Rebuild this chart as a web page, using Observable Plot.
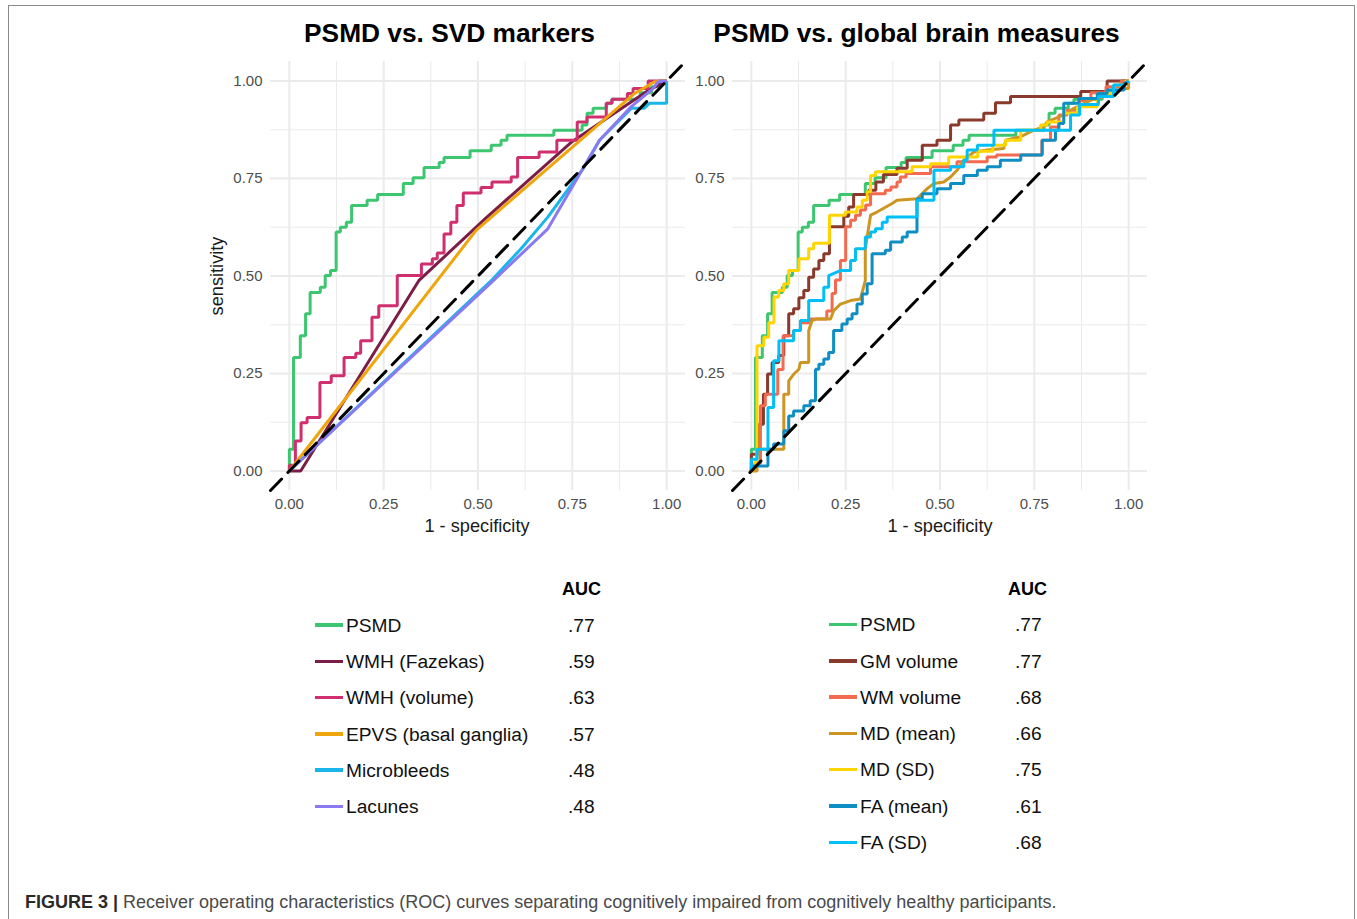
<!DOCTYPE html>
<html>
<head>
<meta charset="utf-8">
<script src="https://cdn.jsdelivr.net/npm/d3@7"></script>
<script src="https://cdn.jsdelivr.net/npm/@observablehq/plot@0.6"></script>
<style>
html,body{margin:0;padding:0;width:1357px;height:919px;overflow:hidden;background:#fff;font-family:"Liberation Sans",Arial,Helvetica,sans-serif;}
#frame{position:absolute;left:8px;top:5px;width:1347px;height:960px;border:1.5px solid #8a8a8a;box-sizing:border-box;}
.abs{position:absolute;white-space:nowrap;}
.title{font-weight:bold;font-size:26.3px;line-height:26px;color:#000;text-align:center;width:600px;}
.axtitle{font-size:18.2px;line-height:18px;color:#1a1a1a;text-align:center;width:300px;}
.leg{font-size:19.2px;line-height:19px;color:#111;}
.auchead{font-weight:bold;font-size:18px;line-height:18px;color:#000;}
.swatch{position:absolute;height:3.5px;width:28px;}
#caption{font-size:18px;line-height:18px;color:#4a4a4a;}
#caption b{color:#2a2a2a;}
</style>
</head>
<body>
<div id="frame"></div>
<div id="root"></div>
<script>
// ---------------- data ----------------
const majorTicks = [0, 0.25, 0.5, 0.75, 1];
const minorTicks = [0.125, 0.375, 0.625, 0.875];
const axisDomain = [-0.05, 1.05];

// left panel: PSMD vs. SVD markers  ([1 - specificity, sensitivity])
const psmd = [[0,0],[0,0.056],[0.011,0.056],[0.011,0.291],[0.029,0.291],[0.029,0.347],[0.043,0.347],[0.043,0.403],[0.055,0.403],[0.055,0.458],[0.082,0.458],[0.082,0.471],[0.095,0.471],[0.095,0.501],[0.109,0.501],[0.109,0.514],[0.124,0.514],[0.124,0.613],[0.135,0.613],[0.135,0.625],[0.151,0.625],[0.151,0.638],[0.165,0.638],[0.165,0.681],[0.206,0.681],[0.206,0.694],[0.234,0.694],[0.234,0.709],[0.302,0.709],[0.302,0.737],[0.328,0.737],[0.328,0.752],[0.357,0.752],[0.357,0.778],[0.397,0.778],[0.397,0.791],[0.41,0.791],[0.41,0.804],[0.479,0.804],[0.479,0.821],[0.535,0.821],[0.535,0.835],[0.561,0.835],[0.561,0.848],[0.577,0.848],[0.577,0.861],[0.701,0.861],[0.701,0.874],[0.776,0.874],[0.776,0.887],[0.789,0.887],[0.789,0.917],[0.805,0.917],[0.805,0.93],[0.84,0.93],[0.84,0.943],[0.855,0.943],[0.855,0.953],[0.93,0.953],[0.93,0.97],[0.96,0.97],[0.96,0.985],[0.98,0.985],[0.98,1],[1,1]];
const wmhFazekas = [[0,0],[0.03,0],[0.343,0.488],[0.52,0.648],[0.75,0.845],[0.95,0.975],[1,1]];
const wmhVolume = [[0,0],[0,0.015],[0.016,0.015],[0.016,0.077],[0.031,0.077],[0.031,0.124],[0.047,0.124],[0.047,0.137],[0.081,0.137],[0.081,0.227],[0.111,0.227],[0.111,0.244],[0.145,0.244],[0.145,0.291],[0.176,0.291],[0.176,0.302],[0.189,0.302],[0.189,0.334],[0.219,0.334],[0.219,0.394],[0.237,0.394],[0.237,0.424],[0.286,0.424],[0.286,0.501],[0.35,0.501],[0.35,0.531],[0.379,0.531],[0.379,0.544],[0.392,0.544],[0.392,0.559],[0.41,0.559],[0.41,0.608],[0.428,0.608],[0.428,0.638],[0.444,0.638],[0.444,0.681],[0.461,0.681],[0.461,0.713],[0.508,0.713],[0.508,0.727],[0.537,0.727],[0.537,0.741],[0.588,0.741],[0.588,0.754],[0.605,0.754],[0.605,0.804],[0.662,0.804],[0.662,0.818],[0.709,0.818],[0.709,0.848],[0.763,0.848],[0.763,0.895],[0.789,0.895],[0.789,0.908],[0.84,0.908],[0.84,0.943],[0.855,0.943],[0.855,0.953],[0.896,0.953],[0.896,0.968],[0.911,0.968],[0.911,0.981],[0.951,0.981],[0.951,1],[1,1]];
const epvs = [[0,0],[0.495,0.617],[0.915,0.968],[0.968,0.998],[1,1]];
const microbleeds = [[0,0],[0.535,0.488],[0.614,0.57],[0.685,0.651],[0.782,0.78],[0.822,0.848],[0.907,0.93],[0.94,0.93],[0.955,0.943],[1,0.943],[1,1]];
const lacunes = [[0,0],[0.535,0.483],[0.685,0.621],[0.822,0.848],[0.907,0.935],[0.963,0.98],[0.978,0.998],[1,1]];

// right panel: PSMD vs. global brain measures
const gmVolume = [[0,0],[0,0.043],[0.02,0.043],[0.02,0.12],[0.032,0.12],[0.032,0.197],[0.043,0.197],[0.043,0.249],[0.055,0.249],[0.055,0.278],[0.0725,0.278],[0.0725,0.296],[0.086,0.296],[0.086,0.347],[0.099,0.347],[0.099,0.403],[0.112,0.403],[0.112,0.416],[0.126,0.416],[0.126,0.444],[0.139,0.444],[0.139,0.463],[0.152,0.463],[0.152,0.497],[0.165,0.497],[0.165,0.518],[0.179,0.518],[0.179,0.54],[0.192,0.54],[0.192,0.557],[0.207,0.557],[0.207,0.626],[0.245,0.626],[0.245,0.653],[0.258,0.653],[0.258,0.677],[0.271,0.677],[0.271,0.709],[0.311,0.709],[0.311,0.72],[0.33,0.72],[0.33,0.741],[0.35,0.741],[0.35,0.76],[0.386,0.76],[0.386,0.776],[0.413,0.776],[0.413,0.797],[0.453,0.797],[0.453,0.835],[0.492,0.835],[0.492,0.848],[0.528,0.848],[0.528,0.887],[0.55,0.887],[0.55,0.9],[0.616,0.9],[0.616,0.917],[0.647,0.917],[0.647,0.944],[0.687,0.944],[0.687,0.96],[0.873,0.96],[0.873,0.973],[0.943,0.973],[0.943,1],[1,1]];
const wmVolume = [[0,0],[0.01,0.02],[0.024,0.02],[0.024,0.167],[0.037,0.167],[0.037,0.197],[0.07,0.197],[0.07,0.26],[0.084,0.26],[0.084,0.347],[0.112,0.347],[0.112,0.36],[0.13,0.36],[0.13,0.38],[0.157,0.38],[0.157,0.39],[0.2,0.39],[0.2,0.41],[0.214,0.41],[0.214,0.455],[0.223,0.455],[0.223,0.49],[0.236,0.49],[0.236,0.54],[0.25,0.54],[0.25,0.626],[0.263,0.626],[0.263,0.643],[0.276,0.643],[0.276,0.656],[0.289,0.656],[0.289,0.669],[0.303,0.669],[0.303,0.682],[0.316,0.682],[0.316,0.711],[0.355,0.711],[0.355,0.72],[0.37,0.72],[0.37,0.728],[0.386,0.728],[0.386,0.741],[0.395,0.741],[0.395,0.754],[0.41,0.754],[0.41,0.763],[0.475,0.763],[0.475,0.78],[0.545,0.78],[0.545,0.793],[0.625,0.793],[0.625,0.805],[0.65,0.805],[0.65,0.81],[0.77,0.81],[0.77,0.848],[0.793,0.848],[0.793,0.882],[0.815,0.882],[0.815,0.913],[0.837,0.913],[0.837,0.925],[0.87,0.925],[0.87,0.95],[0.9,0.95],[0.9,0.97],[0.94,0.97],[0.94,0.985],[0.98,0.985],[0.98,1],[1,1]];
const mdMean = [[0,0],[0.015,0],[0.015,0.056],[0.086,0.056],[0.086,0.197],[0.099,0.197],[0.099,0.231],[0.112,0.248],[0.126,0.261],[0.13,0.278],[0.152,0.278],[0.152,0.36],[0.161,0.386],[0.174,0.39],[0.21,0.39],[0.218,0.411],[0.236,0.428],[0.263,0.437],[0.289,0.441],[0.302,0.488],[0.302,0.57],[0.316,0.656],[0.333,0.664],[0.373,0.686],[0.386,0.694],[0.439,0.698],[0.466,0.724],[0.484,0.737],[0.51,0.741],[0.528,0.754],[0.545,0.771],[0.563,0.797],[0.59,0.818],[0.625,0.823],[0.669,0.827],[0.674,0.848],[0.714,0.857],[0.74,0.87],[0.775,0.883],[0.784,0.895],[0.828,0.913],[0.855,0.93],[0.9,0.951],[0.934,0.96],[0.961,0.968],[0.988,0.981],[1,0.981],[1,1]];
const mdSD = [[0,0],[0.015,0.03],[0.015,0.321],[0.033,0.321],[0.033,0.343],[0.046,0.343],[0.046,0.38],[0.06,0.38],[0.06,0.446],[0.0725,0.446],[0.0725,0.463],[0.086,0.463],[0.086,0.48],[0.099,0.48],[0.099,0.514],[0.126,0.514],[0.126,0.544],[0.152,0.544],[0.152,0.57],[0.165,0.57],[0.165,0.584],[0.207,0.584],[0.207,0.656],[0.249,0.656],[0.249,0.664],[0.28,0.664],[0.28,0.677],[0.294,0.677],[0.294,0.694],[0.307,0.694],[0.307,0.716],[0.316,0.716],[0.316,0.758],[0.329,0.758],[0.329,0.767],[0.426,0.767],[0.426,0.78],[0.475,0.78],[0.475,0.788],[0.523,0.788],[0.523,0.805],[0.6,0.805],[0.6,0.82],[0.64,0.82],[0.64,0.835],[0.674,0.835],[0.674,0.848],[0.714,0.848],[0.714,0.874],[0.767,0.874],[0.767,0.887],[0.784,0.887],[0.784,0.895],[0.828,0.895],[0.828,0.917],[0.864,0.917],[0.864,0.934],[0.917,0.934],[0.917,0.968],[0.961,0.968],[0.961,0.99],[0.992,0.99],[0.992,1],[1,1]];
const faMean = [[0,0],[0,0.013],[0.044,0.013],[0.044,0.056],[0.059,0.056],[0.059,0.069],[0.086,0.069],[0.086,0.103],[0.099,0.103],[0.099,0.141],[0.112,0.141],[0.112,0.154],[0.139,0.154],[0.139,0.167],[0.156,0.167],[0.156,0.18],[0.17,0.18],[0.17,0.261],[0.179,0.261],[0.179,0.274],[0.192,0.274],[0.192,0.287],[0.205,0.287],[0.205,0.304],[0.218,0.304],[0.218,0.36],[0.24,0.36],[0.24,0.377],[0.254,0.377],[0.254,0.39],[0.267,0.39],[0.267,0.403],[0.28,0.403],[0.28,0.428],[0.294,0.428],[0.294,0.454],[0.307,0.454],[0.307,0.48],[0.32,0.48],[0.32,0.557],[0.355,0.557],[0.355,0.566],[0.369,0.566],[0.369,0.587],[0.4,0.587],[0.4,0.6],[0.413,0.6],[0.413,0.613],[0.439,0.613],[0.439,0.698],[0.453,0.698],[0.453,0.711],[0.492,0.711],[0.492,0.724],[0.528,0.724],[0.528,0.737],[0.563,0.737],[0.563,0.758],[0.599,0.758],[0.599,0.771],[0.625,0.771],[0.625,0.78],[0.66,0.78],[0.66,0.797],[0.714,0.797],[0.714,0.81],[0.771,0.81],[0.771,0.848],[0.806,0.848],[0.806,0.874],[0.815,0.874],[0.815,0.891],[0.828,0.891],[0.828,0.943],[0.868,0.943],[0.868,0.955],[0.917,0.955],[0.917,0.968],[0.943,0.968],[0.943,0.977],[0.988,0.977],[0.988,0.994],[1,1]];
const faSD = [[0,0],[0,0.03],[0.015,0.03],[0.015,0.056],[0.044,0.056],[0.044,0.163],[0.059,0.163],[0.059,0.283],[0.073,0.283],[0.073,0.334],[0.112,0.334],[0.112,0.36],[0.13,0.36],[0.13,0.386],[0.152,0.386],[0.152,0.437],[0.192,0.437],[0.192,0.471],[0.205,0.471],[0.205,0.501],[0.236,0.514],[0.263,0.514],[0.263,0.54],[0.276,0.54],[0.276,0.57],[0.302,0.57],[0.302,0.6],[0.316,0.6],[0.316,0.613],[0.329,0.613],[0.329,0.621],[0.347,0.621],[0.347,0.638],[0.36,0.638],[0.36,0.651],[0.439,0.651],[0.439,0.694],[0.484,0.694],[0.484,0.771],[0.528,0.771],[0.528,0.78],[0.563,0.78],[0.563,0.797],[0.572,0.797],[0.572,0.823],[0.599,0.823],[0.599,0.835],[0.643,0.835],[0.643,0.874],[0.846,0.874],[0.846,0.913],[0.87,0.913],[0.87,0.94],[0.92,0.94],[0.92,0.96],[0.96,0.96],[0.96,0.99],[0.99,0.99],[1,1]];

const leftNames = ["PSMD", "WMH (Fazekas)", "WMH (volume)", "EPVS (basal ganglia)", "Microbleeds", "Lacunes"];
const leftCurves = [psmd, wmhFazekas, wmhVolume, epvs, microbleeds, lacunes];
const leftAUC = [".77", ".59", ".63", ".57", ".48", ".48"];
const leftColors = ["#3CC66F", "#7A1E48", "#CF2F6E", "#EFA50C", "#1AB6EA", "#8A7AF2"];

const rightNames = ["PSMD", "GM volume", "WM volume", "MD (mean)", "MD (SD)", "FA (mean)", "FA (SD)"];
const rightCurves = [psmd, gmVolume, wmVolume, mdMean, mdSD, faMean, faSD];
const rightAUC = [".77", ".77", ".68", ".66", ".75", ".61", ".68"];
const rightColors = ["#3CC66F", "#8A3A2C", "#F26A50", "#CD9623", "#FFD400", "#0F8EC4", "#00BFF7"];

const panelTitles = ["PSMD vs. SVD markers", "PSMD vs. global brain measures"];
const xTitle = "1 - specificity";
const yTitle = "sensitivity";
const aucHeader = "AUC";
const captionBold = "FIGURE 3 |";
const captionText = " Receiver operating characteristics (ROC) curves separating cognitively impaired from cognitively healthy participants.";

// ---------------- build ----------------
const root = document.getElementById("root");
function place(el, left, top) {
  el.style.left = left + "px"; el.style.top = top + "px";
  root.appendChild(el); return el;
}
function div(cls, text) { const d = document.createElement("div"); d.className = "abs " + cls; if (text != null) d.textContent = text; return d; }

function rows(names, curves) {
  const out = [];
  names.forEach((n, i) => curves[i].forEach(([fpr, sens]) => out.push({series: n, fpr, sens})));
  return out;
}
const diagonal = axisDomain.map(v => ({fpr: v, sens: v}));

function rocPlot(names, curves, colors) {
  return Plot.plot({
    width: 500, height: 500,
    marginLeft: 70, marginRight: 15, marginTop: 6, marginBottom: 65,
    style: {fontFamily: '"Liberation Sans", Arial, sans-serif', fontSize: "15px", color: "#4D4D4D", background: "transparent", overflow: "visible"},
    x: {domain: axisDomain, ticks: majorTicks, tickFormat: d3.format(".2f"), tickSize: 0, tickPadding: 8, label: null},
    y: {domain: axisDomain, ticks: majorTicks, tickFormat: d3.format(".2f"), tickSize: 0, tickPadding: 8, label: null},
    color: {domain: names, range: colors},
    marks: [
      Plot.ruleX(minorTicks, {stroke: "#EBEBEB", strokeWidth: 1}),
      Plot.ruleY(minorTicks, {stroke: "#EBEBEB", strokeWidth: 1}),
      Plot.ruleX(majorTicks, {stroke: "#EBEBEB", strokeWidth: 2}),
      Plot.ruleY(majorTicks, {stroke: "#EBEBEB", strokeWidth: 2}),
      Plot.line(rows(names, curves), {x: "fpr", y: "sens", z: "series", stroke: "series", strokeWidth: 3, strokeLinejoin: "miter", strokeLinecap: "butt", curve: "linear"}),
      Plot.line(diagonal, {x: "fpr", y: "sens", stroke: "#000", strokeWidth: 3, strokeDasharray: "16,9"})
    ]
  });
}

// panels
const p1 = rocPlot(leftNames, leftCurves, leftColors);
p1.style.position = "absolute"; place(p1, 200, 55);
const p2 = rocPlot(rightNames, rightCurves, rightColors);
p2.style.position = "absolute"; place(p2, 662, 55);

// titles
place(div("title", panelTitles[0]), 449.5 - 300, 20);
place(div("title", panelTitles[1]), 916.5 - 300, 20);

// axis titles
place(div("axtitle", xTitle), 477 - 150, 517);
place(div("axtitle", xTitle), 940 - 150, 517);
const yt = div("axtitle", yTitle);
yt.style.transform = "rotate(-90deg)";
place(yt, 217 - 150, 276 - 9);

// legends
function legend(names, auc, colors, swX, labelX, valueX, headX, y0, step) {
  place(div("auchead", aucHeader), headX, 580);
  names.forEach((n, i) => {
    const yc = y0 + i * step;
    const sw = document.createElement("div");
    sw.className = "swatch"; sw.style.background = colors[i];
    place(sw, swX, yc - 1.75);
    place(div("leg", n), labelX, yc - 9.3);
    place(div("leg", auc[i]), valueX, yc - 9.3);
  });
}
legend(leftNames, leftAUC, leftColors, 315, 346, 568, 562, 625, 36.3);
legend(rightNames, rightAUC, rightColors, 829, 860, 1015, 1008, 624.5, 36.3);

// caption
const cap = div("", null);
cap.id = "caption";
const b = document.createElement("b"); b.textContent = captionBold;
cap.appendChild(b); cap.appendChild(document.createTextNode(captionText));
place(cap, 25, 893);
</script>
</body>
</html>
